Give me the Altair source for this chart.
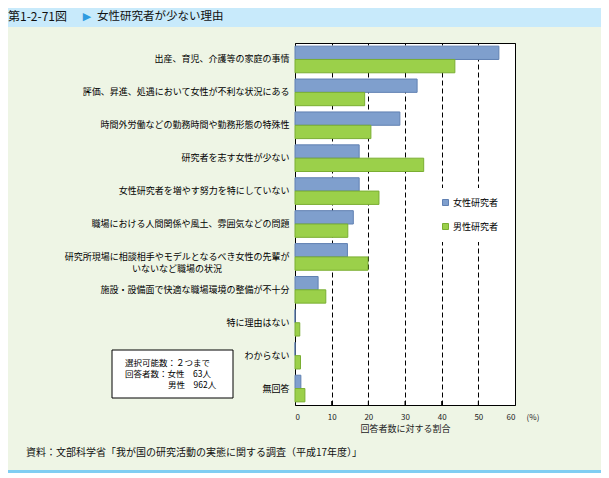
import altair as alt
import pandas as pd

categories = [
    "出産、育児、介護等の家庭の事情",
    "評価、昇進、処遇において女性が不利な状況にある",
    "時間外労働などの勤務時間や勤務形態の特殊性",
    "研究者を志す女性が少ない",
    "女性研究者を増やす努力を特にしていない",
    "職場における人間関係や風土、雰囲気などの問題",
    "研究所現場に相談相手やモデルとなるべき女性の先輩が|いないなど職場の状況" + "\u3000" * 7 + "\u2002\u200b",
    "施設・設備面で快適な職場環境の整備が不十分",
    "特に理由はない",
    "わからない",
    "無回答",
]
series_names = ["女性研究者", "男性研究者"]
female = [55.6, 33.3, 28.6, 17.5, 17.5, 15.9, 14.3, 6.3, 0.0, 0.0, 1.6]
male = [43.6, 19.0, 20.7, 35.1, 22.9, 14.4, 19.9, 8.4, 1.3, 1.5, 2.7]
x_ticks = [0, 10, 20, 30, 40, 50, 60]
inner_ticks = [10, 20, 30, 40, 50]

title_code = "第1-2-71図"
title_text = "女性研究者が少ない理由"
note_line1 = "選択可能数：２つまで"
note_line2 = "回答者数：女性　63人"
note_line3 = "男性　962人"
source_text = "資料：文部科学省「我が国の研究活動の実態に関する調査（平成17年度）」"
x_title = "回答者数に対する割合"
unit_text = "(%)"

rows = []
for c, f, m in zip(categories, female, male):
    rows.append({"cat": c, "series": series_names[0], "v": f})
    rows.append({"cat": c, "series": series_names[1], "v": m})
df = pd.DataFrame(rows)

FONT = "Noto Sans CJK JP"
fill_colors = ["#7F9FCD", "#9BD04A"]
stroke_colors = ["#6080B2", "#7AAE32"]

x_scale = alt.Scale(domain=[0, 60], nice=False)
x_axis = alt.Axis(title=x_title, values=x_ticks, labelOverlap=False,
                  ticks=False, domain=False,
                  grid=True, gridDash=[5, 3], gridColor="#000", gridWidth=1,
                  labelFont=FONT, labelFontSize=8, labelColor="#222",
                  labelPadding=8, titleFont=FONT, titleFontSize=9,
                  titleFontWeight="normal", titleColor="#222", titlePadding=3)

bars = alt.Chart(df).mark_bar(strokeWidth=1).encode(
    y=alt.Y("cat:N", sort=categories,
            scale=alt.Scale(paddingInner=0.19, paddingOuter=0.095),
            axis=alt.Axis(title=None, domain=False, ticks=False, labelPadding=6,
                          labelFont=FONT, labelFontSize=9, labelColor="#000",
                          labelLimit=0, labelLineHeight=12,
                          labelExpr="split(datum.label, '|')")),
    yOffset=alt.YOffset("series:N", sort=series_names,
                        scale=alt.Scale(paddingInner=0, paddingOuter=0)),
    x=alt.X("v:Q", scale=x_scale, axis=x_axis),
    fill=alt.Fill("series:N", sort=series_names,
                  scale=alt.Scale(domain=series_names, range=fill_colors),
                  legend=alt.Legend(title=None, orient="none", legendX=136, legendY=145,
                                    fillColor="white", padding=10, rowPadding=13,
                                    symbolType="square", symbolSize=36,
                                    symbolStrokeColor="#444", symbolStrokeWidth=1,
                                    labelFont=FONT, labelFontSize=9, labelColor="#000",
                                    labelOffset=3)),
    stroke=alt.Stroke("series:N", sort=series_names,
                      scale=alt.Scale(domain=series_names, range=stroke_colors),
                      legend=None),
)

tick_df = pd.DataFrame({"t": inner_ticks})
ticks = alt.Chart(tick_df).mark_rule(color="#000", strokeWidth=1).encode(
    x=alt.X("t:Q", scale=x_scale, axis=x_axis), y=alt.value(358), y2=alt.value(362)
)

one = alt.Data(values=[{}])

band = alt.Chart(one).mark_rect(color="#C8EAFB").encode(
    x=alt.value(-300), x2=alt.value(320), y=alt.value(-50), y2=alt.value(-16)
)
stripe = alt.Chart(one).mark_rect(color="#80CEF2").encode(
    x=alt.value(-300), x2=alt.value(320), y=alt.value(427), y2=alt.value(440)
)
t1 = alt.Chart(one).mark_text(align="left", baseline="middle", font=FONT,
                              fontSize=12, color="#111").encode(
    x=alt.value(-287), y=alt.value(-26), text=alt.value(title_code))
tri = alt.Chart(one).mark_text(align="center", baseline="middle", font="DejaVu Sans",
                               fontSize=11, color="#2E9BE0").encode(
    x=alt.value(-208), y=alt.value(-26), text=alt.value("▶"))
t2 = alt.Chart(one).mark_text(align="left", baseline="middle", font=FONT,
                              fontSize=11.5, color="#111").encode(
    x=alt.value(-198), y=alt.value(-26), text=alt.value(title_text))

note_box = alt.Chart(one).mark_rect(fill="white", stroke="#000", strokeWidth=1).encode(
    x=alt.value(-183), x2=alt.value(-62), y=alt.value(307), y2=alt.value(355)
)
def note_text(txt, x, y):
    return alt.Chart(one).mark_text(align="left", baseline="middle", font=FONT,
                                    fontSize=8.5, color="#000").encode(
        x=alt.value(x), y=alt.value(y), text=alt.value(txt))
n1 = note_text(note_line1, -170, 320)
n2 = note_text(note_line2, -170, 331)
n3 = note_text(note_line3, -127, 342)

unit = alt.Chart(one).mark_text(align="center", baseline="middle", font=FONT,
                                fontSize=8, color="#222").encode(
    x=alt.value(238), y=alt.value(375), text=alt.value(unit_text))
source = alt.Chart(one).mark_text(align="left", baseline="middle", font=FONT,
                                  fontSize=10, color="#111").encode(
    x=alt.value(-269), y=alt.value(410), text=alt.value(source_text))

chart = alt.layer(band, stripe, t1, tri, t2, bars, ticks, note_box, n1, n2, n3, unit, source).properties(
    width=220, height=362,
    padding={"left": 287, "top": 35, "right": 86, "bottom": 68},
    autosize=alt.AutoSizeParams(type="none"),
    background="#EEF5E5",
).configure_view(stroke="#000", strokeWidth=1, fill="white")

chart.save("out.html", embed_options={"renderer": "svg", "actions": False})
